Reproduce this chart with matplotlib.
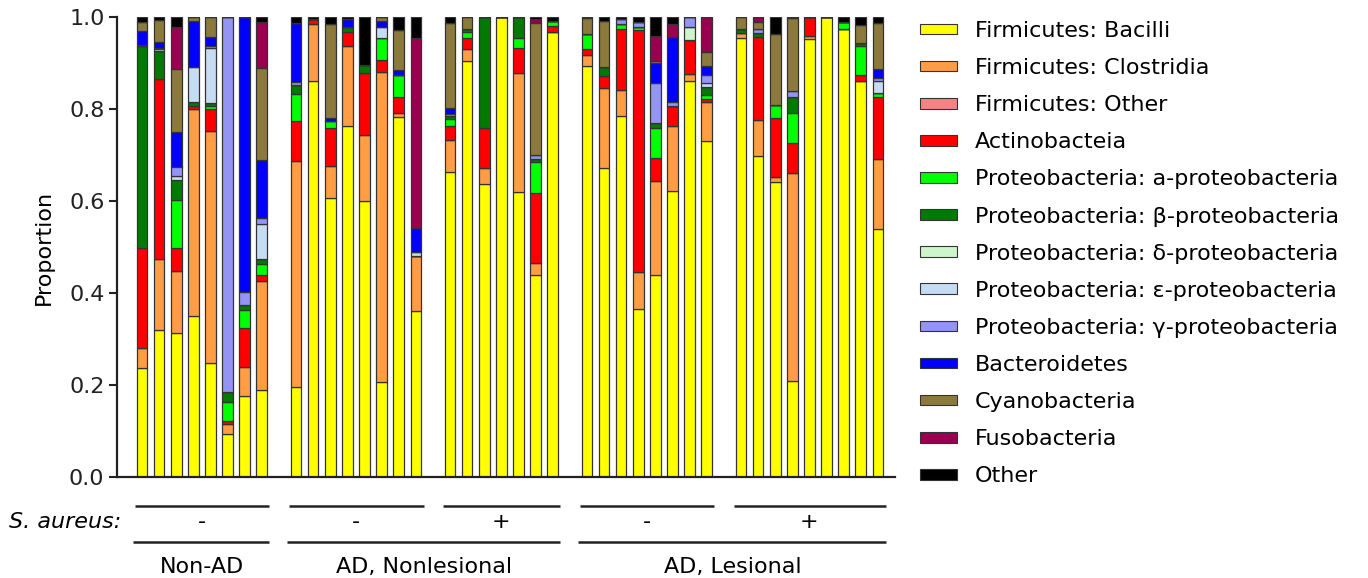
import numpy as np
import matplotlib
matplotlib.use("Agg")
import matplotlib.pyplot as plt
from matplotlib.patches import Patch
import matplotlib.transforms as mtransforms

#### data: proportion of each taxon per sample (40 samples, in plot order)

bacilli = [.238, .319, .312, .350, .247, .093, .176, .189,
           .196, .860, .607, .764, .599, .207, .782, .361,
           .662, .905, .636, 1.0, .619, .440, .968,
           .894, .672, .785, .366, .440, .621, .860, .730,
           .955, .697, .641, .209, .952, 1.0, .973, .861, .539]
clostridia = [.042, .154, .136, .451, .506, .022, .063, .237,
              .492, .125, .070, .174, .145, .674, .009, .119,
              .071, .025, .036, 0, .259, .026, 0,
              .024, .173, .057, .079, .203, .141, .016, .086,
              .010, .080, .011, .452, .007, 0, 0, 0, .152]
firm_other = [0] * 40
actino = [.218, .393, .050, .006, .047, .007, .086, .014,
          .086, .011, .081, .030, .134, .026, .036, 0,
          .031, .024, .086, 0, .055, .151, .012,
          .012, .027, .131, .527, .050, .045, .074, .006,
          0, .180, .128, .065, .041, 0, 0, .013, .136]
alpha = [0, 0, .105, 0, .007, .040, .038, .022,
         .059, 0, .017, 0, 0, .047, .047, 0,
         .014, .014, 0, 0, .021, .067, .012,
         .032, 0, .012, .006, .065, 0, 0, .009,
         0, 0, .029, .065, 0, 0, .017, .062, .007]
beta = [.438, .060, .043, .009, .006, .022, .010, .011,
        .019, 0, 0, .011, .018, 0, 0, 0,
        .006, .005, .242, 0, .046, .007, 0,
        .002, .020, 0, 0, .011, 0, 0, .016,
        .008, .008, 0, .036, 0, 0, 0, .007, 0]
delta = [0, 0, 0, 0, 0, 0, 0, 0,
         0, 0, 0, 0, 0, 0, 0, 0,
         0, 0, 0, 0, 0, 0, 0,
         0, 0, 0, 0, 0, 0, .029, 0,
         0, 0, 0, 0, 0, 0, 0, 0, 0]
epsilon = [0, .004, .009, .076, .119, 0, 0, .078,
           0, 0, 0, 0, 0, .024, 0, .010,
           0, 0, 0, 0, 0, 0, 0,
           0, 0, 0, 0, 0, 0, 0, .009,
           0, 0, 0, 0, 0, 0, 0, 0, .026]
gamma = [.004, .003, .020, 0, .006, .816, .029, .012,
         .006, 0, 0, 0, 0, 0, 0, 0,
         .006, 0, 0, 0, 0, .010, 0,
         0, 0, .010, .012, .087, .009, .021, .018,
         0, .008, 0, .013, 0, 0, 0, 0, .007]
bacteroidetes = [.030, .013, .075, .100, .019, 0, .598, .127,
                 .130, 0, .005, .017, 0, .014, .011, .052,
                 .012, 0, 0, 0, 0, 0, 0,
                 0, 0, 0, 0, .043, .140, 0, .020,
                 0, 0, 0, 0, 0, 0, 0, 0, .020]
cyano = [.020, .047, .137, .008, .043, 0, 0, .200,
         0, 0, .205, 0, 0, .008, .087, 0,
         .184, .027, 0, 0, 0, .287, 0,
         .033, .100, 0, 0, .006, 0, 0, .029,
         .027, .017, .153, .157, 0, 0, 0, .040, .099]
fuso = [0, 0, .092, 0, 0, 0, 0, .100,
        0, 0, 0, 0, 0, 0, 0, .413,
        0, 0, 0, 0, 0, .007, 0,
        0, 0, 0, 0, .054, .029, 0, .077,
        0, .010, 0, 0, 0, 0, 0, 0, 0]
other = [.010, .007, .021, 0, 0, 0, 0, .010,
         .012, .004, .015, .004, .104, 0, .028, .045,
         .014, 0, 0, 0, 0, .005, .008,
         .003, .008, .005, .010, .041, .015, 0, 0,
         0, 0, .038, .003, 0, 0, .010, .017, .014]

taxa = ['Firmicutes: Bacilli', 'Firmicutes: Clostridia', 'Firmicutes: Other',
        'Actinobacteia', 'Proteobacteria: a-proteobacteria',
        'Proteobacteria: β-proteobacteria', 'Proteobacteria: δ-proteobacteria',
        'Proteobacteria: ε-proteobacteria', 'Proteobacteria: γ-proteobacteria',
        'Bacteroidetes', 'Cyanobacteria', 'Fusobacteria', 'Other']
series = [bacilli, clostridia, firm_other, actino, alpha, beta, delta,
          epsilon, gamma, bacteroidetes, cyano, fuso, other]
colors = ['#ffff00', '#ff9d45', '#f48484', '#ff0000', '#00ff00', '#007a00',
          '#ccf5cc', '#c6dcf2', '#9494f5', '#0000ff', '#8c7a3c', '#990050',
          '#000000']

# sub-groups (S. aureus status) and main groups
sub_sizes = [8, 8, 7, 8, 9]
sub_labels = ['-', '-', '+', '-', '+']
main_groups = [('Non-AD', [0]), ('AD, Nonlesional', [1, 2]), ('AD, Lesional', [3, 4])]

#### layout: one empty slot between sub-groups
pos = []
sub_ranges = []
start = 0
for n in sub_sizes:
    pos += list(range(start, start + n))
    sub_ranges.append((start, start + n - 1))
    start += n + 1
pos = np.array(pos)

plt.rcParams['font.family'] = 'DejaVu Sans'
fs = 16

fig = plt.figure(figsize=(13.68, 5.78), dpi=100)
ax = fig.add_axes([117 / 1368, 1 - 477 / 578, (895 - 117) / 1368, 460 / 578])

bottom = np.zeros(len(pos))
for vals, col in zip(series, colors):
    vals = np.array(vals)
    ax.bar(pos, vals, bottom=bottom, width=0.62, color=col,
           edgecolor='#333333', linewidth=0.9)
    bottom += vals

ax.set_xlim(-1.46, 44.0)
ax.set_ylim(0, 1.0)
ax.set_yticks([0, 0.2, 0.4, 0.6, 0.8, 1.0])
ax.set_yticklabels(['0.0', '0.2', '0.4', '0.6', '0.8', '1.0'], fontsize=fs)
ax.set_xticks([])
ax.set_ylabel('Proportion', fontsize=fs, labelpad=11)
ax.tick_params(axis='y', length=6, width=1.5, direction='out', colors='#222222', pad=3)
for s in ['top', 'right']:
    ax.spines[s].set_visible(False)
for s in ['left', 'bottom']:
    ax.spines[s].set_linewidth(1.6)
    ax.spines[s].set_color('#222222')

# bracket lines and labels under the axis
trans = mtransforms.blended_transform_factory(ax.transData, ax.transAxes)
for (a, b), lab in zip(sub_ranges, sub_labels):
    ax.plot([a - 0.4, b + 0.45], [-0.064, -0.064], color='#222222', lw=1.8,
            transform=trans, clip_on=False, solid_capstyle='butt')
    ax.text((a + b) / 2, -0.097, lab, transform=trans, ha='center', va='center',
            fontsize=fs)
for name, idx in main_groups:
    a = sub_ranges[idx[0]][0]
    b = sub_ranges[idx[-1]][1]
    ax.plot([a - 0.5, b + 0.45], [-0.142, -0.142], color='#222222', lw=1.8,
            transform=trans, clip_on=False, solid_capstyle='butt')
    ax.text((a + b) / 2, -0.195, name, transform=trans, ha='center', va='center',
            fontsize=fs)
ax.text(-1.2, -0.097, 'S. aureus:', transform=trans, ha='right', va='center',
        fontsize=fs, style='italic')

handles = [Patch(facecolor=c, edgecolor='#333333', linewidth=0.8) for c in colors]
fig.legend(handles, taxa, loc='upper left', bbox_to_anchor=(920 / 1368, 1 - 21 / 578),
           frameon=False, fontsize=fs, handlelength=1.67, handleheight=0.36,
           handletextpad=0.8, labelspacing=0.77, borderpad=0, borderaxespad=0)

plt.savefig('out.png', dpi=100)
